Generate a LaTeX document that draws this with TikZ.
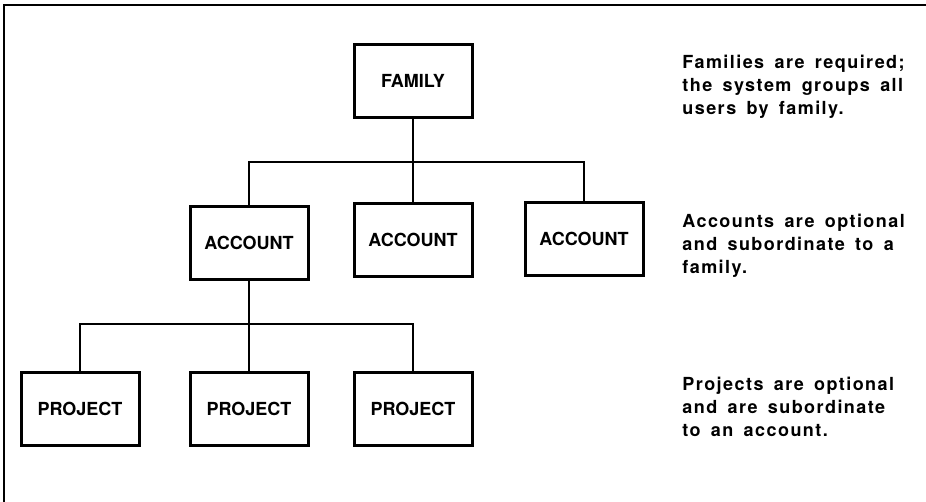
\documentclass[tikz,border=0pt]{standalone}
\usepackage{fontspec}
\setmainfont{TeX Gyre Heros}
\newfontfamily\notefont[LetterSpace=8,WordSpace=1.6]{TeX Gyre Heros}
\usetikzlibrary{positioning}
\tikzset{
  unit box/.style={
    draw=black,
    line width=1.5pt,
    minimum width=59pt,
    minimum height=36.5pt,
    inner sep=0pt,
    font=\fontsize{9}{11}\selectfont\bfseries
  },
  drop/.style={line width=0.75pt,draw=black},
  bus/.style={line width=1.4pt,draw=black,line cap=rect},
  note/.style={
    anchor=north west,
    align=left,
    inner sep=0pt,
    font=\notefont\bfseries\fontsize{9}{11.5}\selectfont
  },
  frame/.style={line width=1pt,draw=black}
}

\begin{document}
\begin{tikzpicture}[x=0.5pt,y=-0.5pt]
  \useasboundingbox (0,0) rectangle (926,502);
  \draw[frame] (4,502) -- (4,5) -- (926,5);

  % tree
  \node[unit box] (family) at (413,81) {FAMILY};

  \node[unit box] (acc1) at (249,243) {ACCOUNT};
  \node[unit box] (acc2) at (413,240) {ACCOUNT};
  \node[unit box] (acc3) at (584,239) {ACCOUNT};

  \node[unit box] (proj1) at (80,409) {PROJECT};
  \node[unit box] (proj2) at (249,409) {PROJECT};
  \node[unit box] (proj3) at (413,409) {PROJECT};

  \coordinate (bus1) at (414,162);
  \coordinate (bus2) at (250,324);

  \draw[drop] (family.south) -- (family.south |- bus1);
  \draw[bus] (acc1.north |- bus1) -- (acc3.north |- bus1);
  \foreach \n in {acc1,acc2,acc3}
    \draw[drop] (\n.north |- bus1) -- (\n.north);

  \draw[drop] (acc1.south) -- (acc1.south |- bus2);
  \draw[bus] (proj1.north |- bus2) -- (proj3.north |- bus2);
  \foreach \n in {proj1,proj2,proj3}
    \draw[drop] (\n.north |- bus2) -- (\n.north);

  % notes on the right
  \node[note] (famnote) at (682,55)
    {Families are required;\\the system groups all\\users by family.};
  \node[note] (accnote) at (682,214)
    {Accounts are optional\\and subordinate to a\\family.};
  \node[note] (projnote) at (682,377)
    {Projects are optional\\and are subordinate\\to an account.};
\end{tikzpicture}
\end{document}
